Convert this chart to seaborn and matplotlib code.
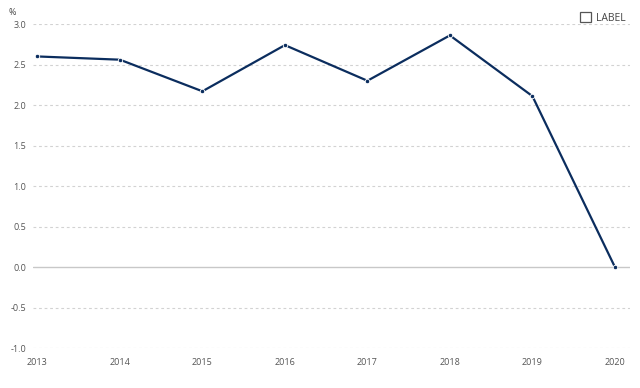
import matplotlib.pyplot as plt
import matplotlib.patches as mpatches
import seaborn as sns
import pandas as pd

years = [2013, 2014, 2015, 2016, 2017, 2018, 2019, 2020]
values = [2.60, 2.56, 2.17, 2.74, 2.30, 2.86, 2.11, 0.0]
yticks = [-1.0, -0.5, 0.0, 0.5, 1.0, 1.5, 2.0, 2.5, 3.0]

df = pd.DataFrame({'year': years, 'value': values})

sns.set_style('white')
plt.rcParams['font.family'] = ['Open Sans', 'DejaVu Sans']

fig = plt.figure(figsize=(6.4, 3.88), dpi=100)
ax = fig.add_axes([0.052, 0.103, 0.932, 0.835])

sns.lineplot(data=df, x='year', y='value', ax=ax, color='#0b2d5e', linewidth=1.6,
             marker='o', markersize=3.2, markeredgecolor='white', markeredgewidth=0.6,
             zorder=3)

ax.set_xlim(2012.95, 2020.18)
ax.set_ylim(-1.0, 3.0)
ax.set_yticks(yticks)
ax.set_yticklabels([f'{t:.1f}' for t in yticks])
ax.set_xticks(years)
ax.set_xticklabels([str(y) for y in years])

# grid
for t in yticks:
    if t == 0:
        ax.axhline(t, color='#c8c8c8', linewidth=1.0, zorder=1)
    else:
        ax.axhline(t, color='#d2d2d2', linewidth=0.8, linestyle=(0, (2.5, 2.5)), zorder=1)

for s in ax.spines.values():
    s.set_visible(False)

ax.tick_params(axis='y', length=0, labelsize=6.5, labelcolor='#555555', pad=5)
ax.tick_params(axis='x', length=3, width=0.6, color='#bbbbbb', labelsize=6.5,
               labelcolor='#555555', pad=7, direction='in')
ax.set_xlabel('')
ax.set_ylabel('')

fig.text(0.014, 0.968, '%', fontsize=6.5, color='#444444', ha='left', va='center')

handle = mpatches.Patch(facecolor='white', edgecolor='#555555', linewidth=0.9)
leg = ax.legend([handle], ['LABEL'], loc='upper right', bbox_to_anchor=(1.0, 1.05),
                frameon=False, fontsize=7.5, handlelength=1.1, handleheight=1.1,
                handletextpad=0.45, borderaxespad=0)
for t in leg.get_texts():
    t.set_color('#444444')

fig.savefig('out.png', dpi=100)
